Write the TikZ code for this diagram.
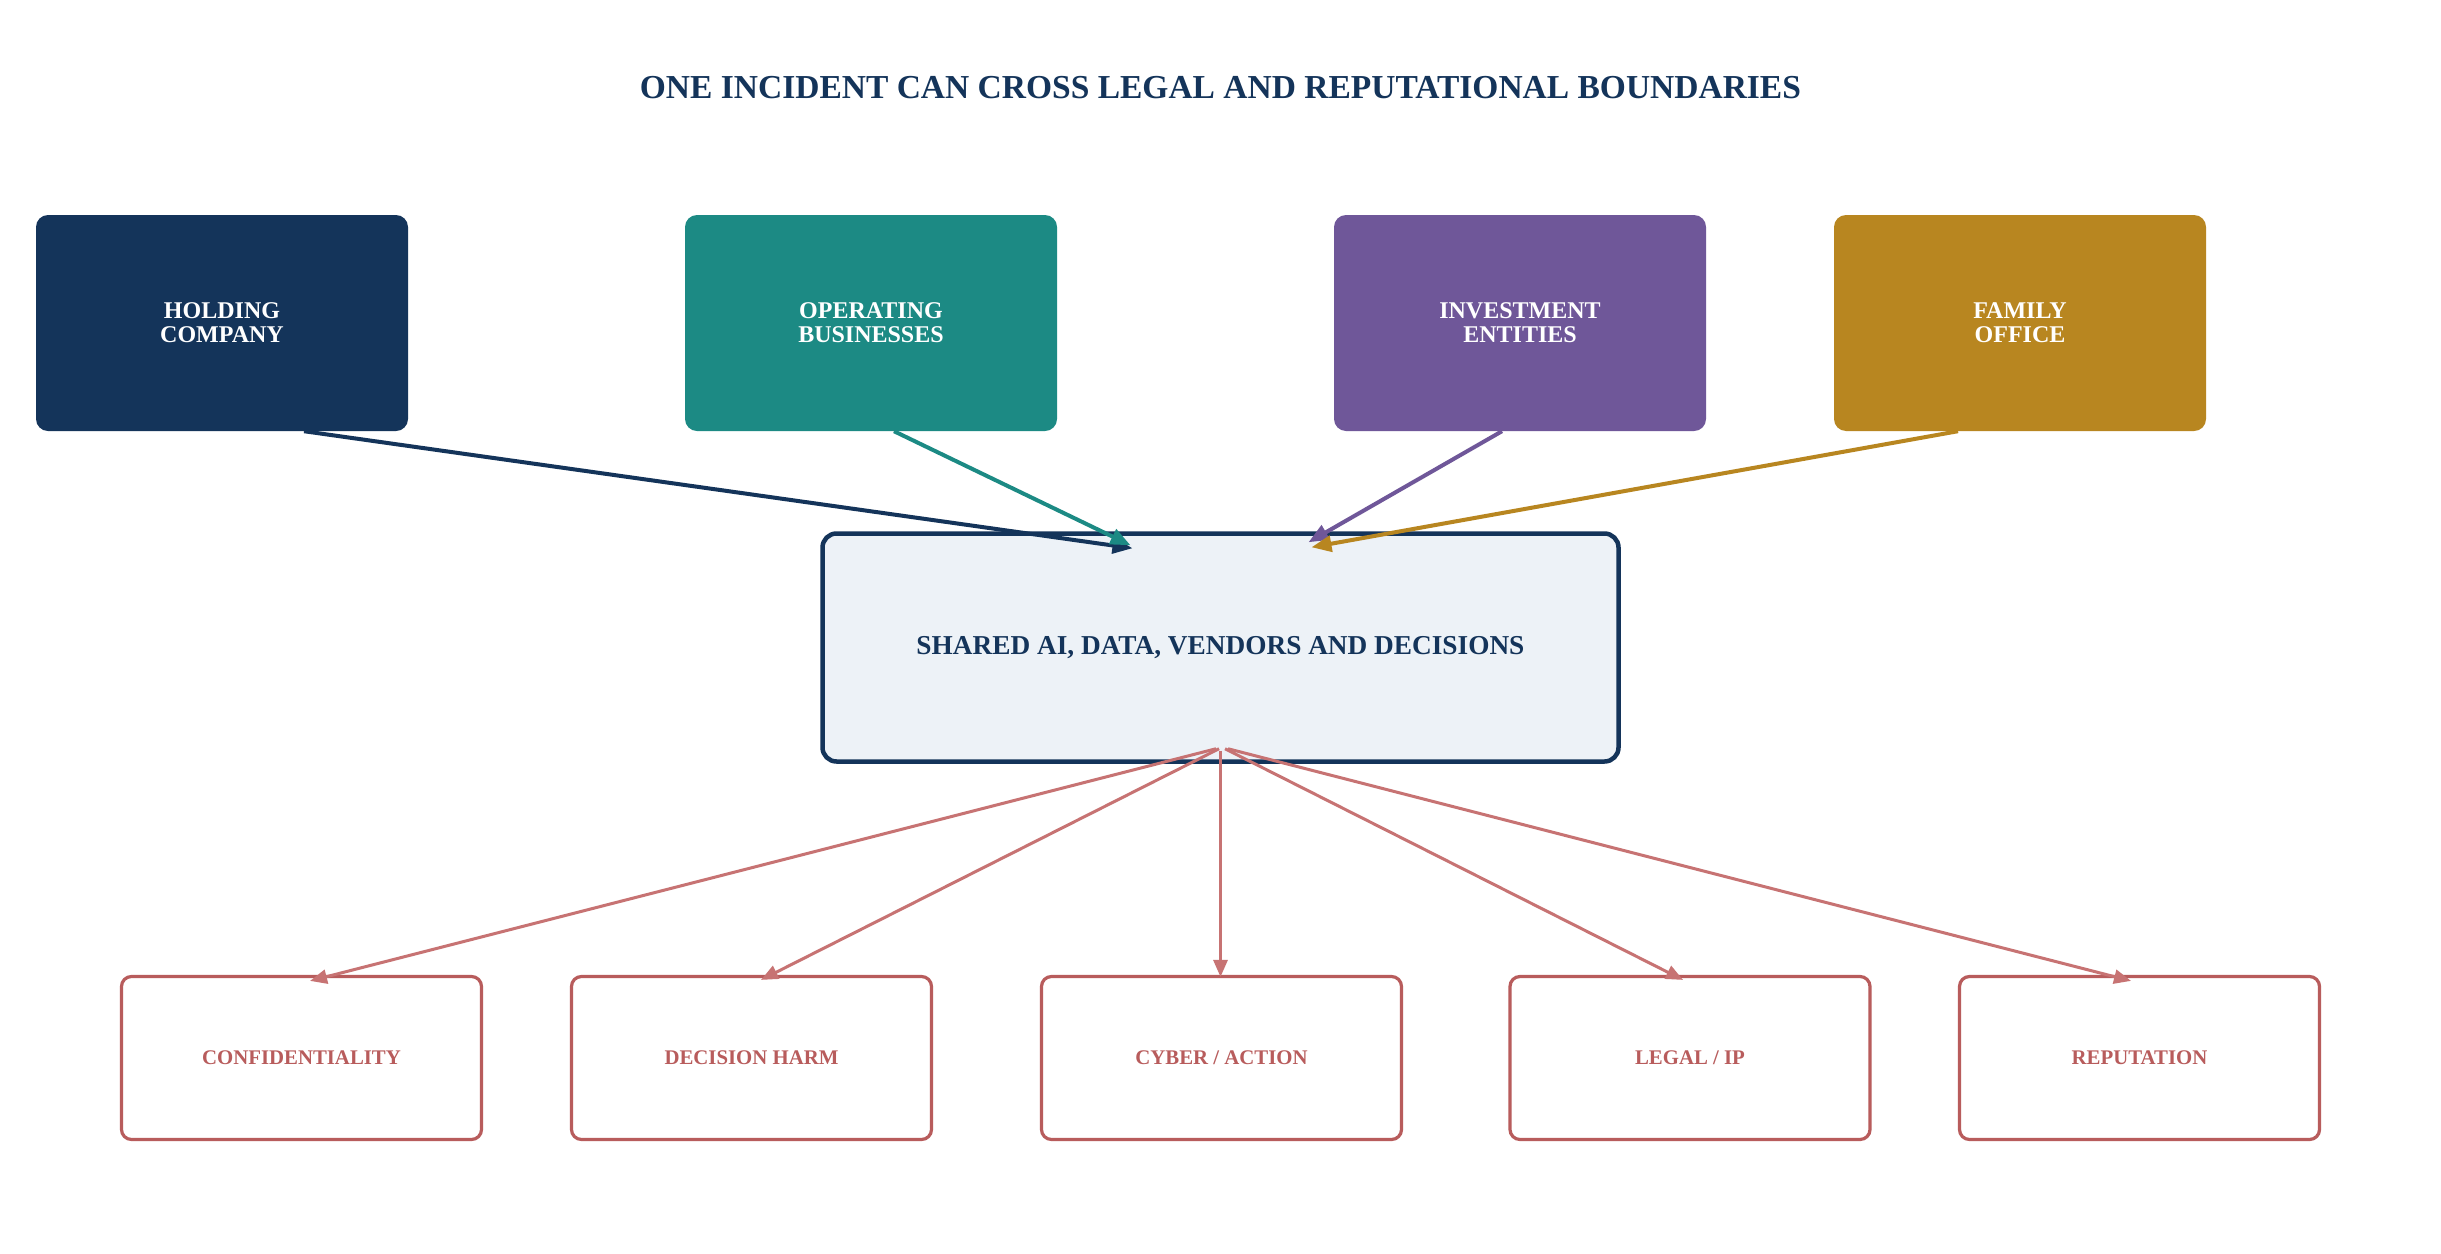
\documentclass[tikz,border=0pt]{standalone}
\usepackage{fontspec}
\setmainfont{Liberation Serif}
\usetikzlibrary{arrows.meta}
\definecolor{navy}{HTML}{14345A}
\definecolor{teal2}{HTML}{1C8A84}
\definecolor{purp}{HTML}{6F5799}
\definecolor{gold}{HTML}{B88620}
\definecolor{redb}{HTML}{B85C5C}
\definecolor{reda}{HTML}{C77373}
\definecolor{pale}{HTML}{EDF2F7}
\tikzset{
  entity/.style={rounded corners=12pt, minimum width=372pt, minimum height=216pt, inner sep=0pt,
    text=white, align=center, font=\fontsize{24}{24}\selectfont\bfseries},
  hub/.style={rounded corners=14pt, draw=navy, line width=4.5pt, fill=pale, minimum width=796pt,
    minimum height=228pt, inner sep=0pt, text=navy, font=\fontsize{27.3}{30}\selectfont\bfseries},
  risk/.style={rounded corners=10pt, draw=redb, line width=3.2pt, fill=white, minimum width=360pt,
    minimum height=163pt, inner sep=0pt, text=redb, font=\fontsize{20.8}{22}\selectfont\bfseries},
  inarrow/.style={line width=4pt, -{Triangle[length=20pt,width=16pt]}},
  outarrow/.style={line width=3pt, draw=reda, -{Triangle[length=17pt,width=14pt]}, reda},
}
\begin{document}
\begin{tikzpicture}[x=1pt,y=-1pt]
\path[fill=white] (0,0) rectangle (2441,1253);
\useasboundingbox (0,0) rectangle (2441,1253);

\node[text=navy, font=\fontsize{33.5}{36}\selectfont\bfseries] (title) at (1220.5,88) {ONE INCIDENT CAN CROSS LEGAL AND REPUTATIONAL BOUNDARIES};

\node[entity, fill=navy] (hold) at (222,323) {HOLDING\\COMPANY};
\node[entity, fill=teal2] (oper) at (871,323) {OPERATING\\BUSINESSES};
\node[entity, fill=purp] (inv) at (1520,323) {INVESTMENT\\ENTITIES};
\node[entity, fill=gold] (fam) at (2020,323) {FAMILY\\OFFICE};

\node[hub] (shared) at (1220.5,647.5) {SHARED AI, DATA, VENDORS AND DECISIONS};

\node[risk] (conf) at (301.5,1058) {CONFIDENTIALITY};
\node[risk] (dec) at (751.5,1058) {DECISION HARM};
\node[risk] (cyb) at (1221.5,1058) {CYBER / ACTION};
\node[risk] (leg) at (1690,1058) {LEGAL / IP};
\node[risk] (rep) at (2139.5,1058) {REPUTATION};

\draw[inarrow, navy] ([xshift=82pt]hold.south) -- ([xshift=-88pt,yshift=-17pt]shared.north);
\draw[inarrow, teal2] ([xshift=23pt]oper.south) -- ([xshift=-90pt,yshift=-14pt]shared.north);
\draw[inarrow, purp] ([xshift=-18pt]inv.south) -- ([xshift=88pt,yshift=-11pt]shared.north);
\draw[inarrow, gold] ([xshift=-62pt]fam.south) -- ([xshift=91pt,yshift=-16pt]shared.north);

\draw[outarrow] ([xshift=-4.5pt,yshift=15pt]shared.south) -- ([xshift=8.5pt,yshift=-6pt]conf.north);
\draw[outarrow] ([xshift=-1.5pt,yshift=15pt]shared.south) -- ([xshift=9.5pt,yshift=-5pt]dec.north);
\draw[outarrow] ([xshift=0pt,yshift=13pt]shared.south) -- ([xshift=-1pt,yshift=-2pt]cyb.north);
\draw[outarrow] ([xshift=4.5pt,yshift=15pt]shared.south) -- ([xshift=-7pt,yshift=-5pt]leg.north);
\draw[outarrow] ([xshift=7.5pt,yshift=15pt]shared.south) -- ([xshift=-8.5pt,yshift=-6pt]rep.north);
\end{tikzpicture}
\end{document}
